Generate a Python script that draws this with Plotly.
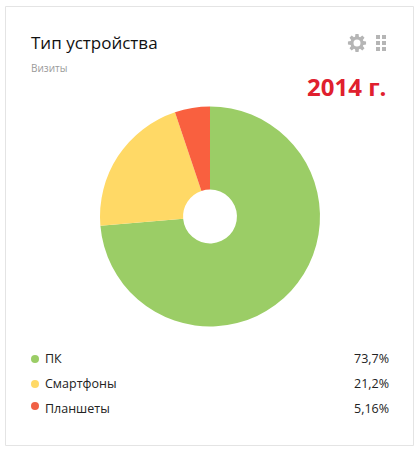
import math
import plotly.graph_objects as go

categories = ["ПК", "Смартфоны", "Планшеты"]
values = [73.7, 21.2, 5.16]
value_labels = ["73,7%", "21,2%", "5,16%"]
colors = ["#9BCD66", "#FFD966", "#F9603F"]
legend_colors = ["#9BCD66", "#FFD966", "#F06045"]
title = "Тип устройства"
subtitle = "Визиты"
year = "2014 г."

W, H = 420, 451
def px(x): return x / W
def py(y): return 1 - y / H

fig = go.Figure(go.Pie(
    labels=categories, values=values, sort=False, direction="clockwise", rotation=0,
    hole=0.245, textinfo="none", hoverinfo="label+percent",
    marker=dict(colors=colors, line=dict(width=0)),
    domain=dict(x=[px(100), px(320)], y=[py(326.5), py(106.5)]),
    showlegend=False,
))

def text(x, y, s, size, color, anchor="left", family="Open Sans, sans-serif"):
    return dict(x=px(x), y=py(y), xref="paper", yref="paper", text=s, showarrow=False,
                xanchor=anchor, yanchor="middle", align=anchor,
                font=dict(size=size, color=color, family=family))

annotations = [
    text(28.5, 42.5, title, 17, "#111111"),
    text(28.5, 68, subtitle, 10, "#9a9a9a"),
    text(388, 86, "<b>" + year + "</b>", 24, "#E0202E", anchor="right"),
]
shapes = [dict(type="rect", xref="paper", yref="paper", x0=px(5.5), x1=px(413.5), y0=py(445.5), y1=py(6.5),
               line=dict(color="#e4e4e4", width=1), fillcolor="rgba(0,0,0,0)")]

# gear icon
cx, cy = 357, 43
pts = []
for i in range(8):
    a = i * math.pi / 4
    for da, r in ((-0.30, 6.6), (-0.17, 9.2), (0.17, 9.2), (0.30, 6.6)):
        pts.append((cx + r * math.cos(a + da), cy + r * math.sin(a + da)))
path = "M " + " L ".join(f"{px(x):.5f},{py(y):.5f}" for x, y in pts) + " Z"
shapes.append(dict(type="path", xref="paper", yref="paper", path=path, line=dict(width=0), fillcolor="#b5b5b5"))
shapes.append(dict(type="circle", xref="paper", yref="paper", x0=px(cx - 3.5), x1=px(cx + 3.5),
                   y0=py(cy + 3.5), y1=py(cy - 3.5), line=dict(width=0), fillcolor="white"))

# grid icon
for gx in (376, 382):
    for gy in (35, 41, 47):
        shapes.append(dict(type="rect", xref="paper", yref="paper", x0=px(gx), x1=px(gx + 4),
                           y0=py(gy + 4), y1=py(gy), line=dict(width=0), fillcolor="#b5b5b5"))

rows = [358, 383, 408.5]
dot_rows = [359, 384, 406]
for name, val, col, y, dy in zip(categories, value_labels, legend_colors, rows, dot_rows):
    annotations.append(text(42.5, y, name, 12.5, "#222222"))
    annotations.append(text(390.5, y, val, 12.5, "#222222", anchor="right"))
    shapes.append(dict(type="circle", xref="paper", yref="paper", x0=px(31), x1=px(39),
                       y0=py(dy + 4), y1=py(dy - 4), line=dict(width=0), fillcolor=col))

fig.update_layout(width=W, height=H, margin=dict(l=0, r=0, t=0, b=0),
                  paper_bgcolor="white", plot_bgcolor="white",
                  annotations=annotations, shapes=shapes)
fig.write_html("out.html", config=dict(displayModeBar=False),
               post_script="document.body.style.margin='0';")
